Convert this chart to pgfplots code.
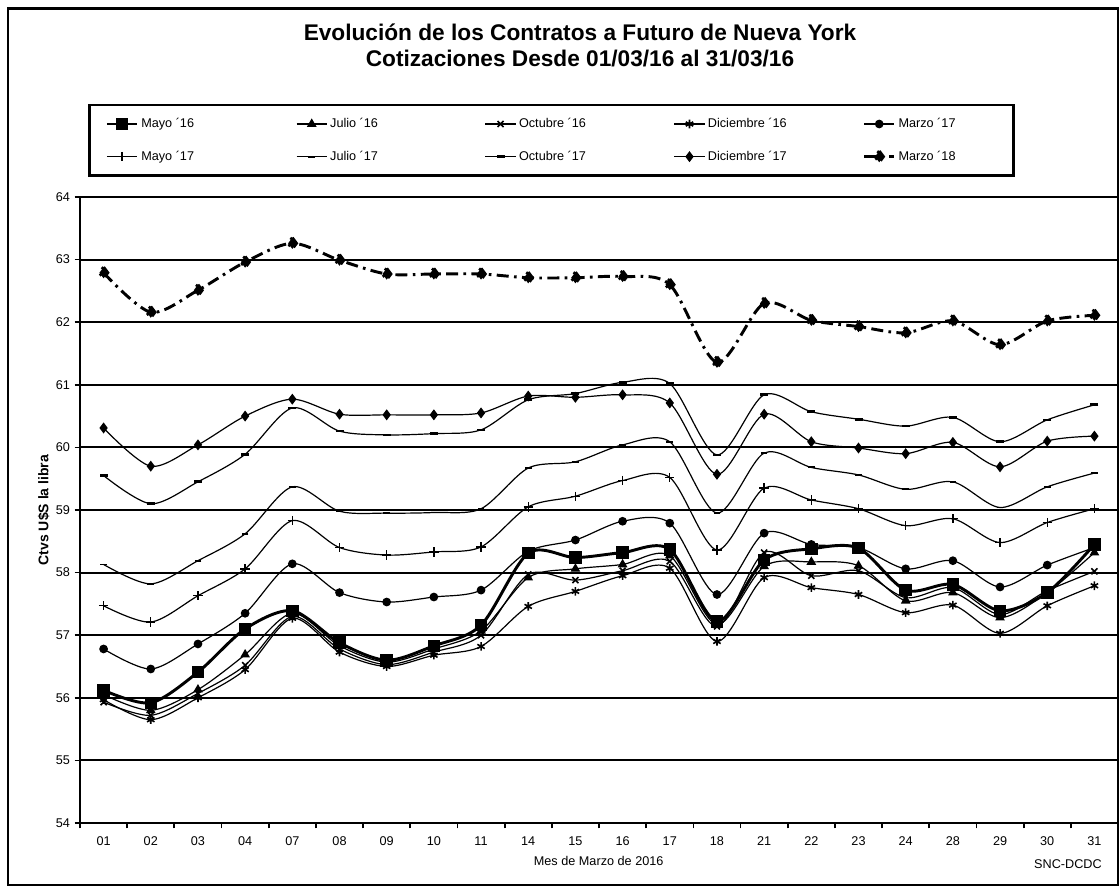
\documentclass[border=0pt]{standalone}
\usepackage{fontspec}
\setmainfont{Liberation Sans}
\usepackage{pgfplots}
\pgfplotsset{compat=1.18}
\usepackage{pgfplotstable}

% cotizaciones (ctvs U$S la libra), una fila por rueda
\pgfplotstableread{
x  M16   J16   O16   D16   Mz17  My17  Jl17  O17   D17   Mz18
0  56.12 56.05 55.93 55.97 56.78 57.47 58.13 59.55 60.31 62.79
1  55.92 55.80 55.72 55.65 56.46 57.21 57.82 59.10 59.70 62.16
2  56.41 56.13 56.07 56.00 56.86 57.63 58.19 59.45 60.04 62.51
3  57.10 56.69 56.52 56.45 57.35 58.06 58.62 59.89 60.50 62.96
4  57.39 57.35 57.30 57.27 58.14 58.83 59.37 60.63 60.77 63.26
5  56.88 56.83 56.78 56.73 57.68 58.40 58.98 60.26 60.53 62.99
6  56.60 56.57 56.53 56.50 57.53 58.28 58.95 60.20 60.52 62.77
7  56.83 56.78 56.73 56.68 57.61 58.33 58.96 60.22 60.52 62.77
8  57.16 57.07 57.00 56.82 57.72 58.41 59.02 60.28 60.55 62.77
9  58.31 57.92 57.97 57.46 58.34 59.05 59.67 60.76 60.82 62.71
10 58.24 58.06 57.88 57.70 58.52 59.22 59.77 60.86 60.80 62.71
11 58.32 58.13 58.03 57.95 58.82 59.47 60.04 61.04 60.84 62.73
12 58.37 58.27 58.18 58.07 58.79 59.52 60.09 61.02 60.71 62.60
13 57.22 57.17 57.14 56.90 57.65 58.36 58.95 59.88 59.57 61.36
14 58.20 58.10 58.32 57.92 58.63 59.35 59.91 60.84 60.53 62.30
15 58.38 58.17 57.95 57.76 58.45 59.16 59.68 60.57 60.09 62.03
16 58.39 58.11 58.03 57.65 58.40 59.02 59.56 60.45 59.99 61.93
17 57.72 57.55 57.60 57.36 58.06 58.75 59.33 60.34 59.90 61.83
18 57.81 57.68 57.76 57.48 58.19 58.86 59.45 60.48 60.08 62.02
19 57.39 57.28 57.33 57.03 57.77 58.48 59.04 60.09 59.69 61.64
20 57.68 57.68 57.71 57.47 58.12 58.80 59.37 60.44 60.10 62.02
21 58.45 58.32 58.02 57.79 58.40 59.02 59.59 60.68 60.18 62.11
}\datos

\begin{document}
\begin{tikzpicture}
  \useasboundingbox (0,0) rectangle (840pt,668.25pt);
  \draw[line width=2.2pt] (6pt,4.5pt) rectangle (838.5pt,662pt);

  \node[font=\fontsize{17}{19.5}\selectfont\bfseries, align=center]
    at (435pt,634.5pt) {Evolución de los Contratos a Futuro de Nueva York\\Cotizaciones Desde 01/03/16 al 31/03/16};

  \begin{axis}[
      at={(60pt,51pt)}, anchor=south west,
      scale only axis,
      width=778.5pt, height=469.5pt,
      xmin=-0.5, xmax=21.5,
      ymin=54, ymax=64,
      ytick={54,...,64},
      xtick={0,...,21},
      xticklabels={01,02,03,04,07,08,09,10,11,14,15,16,17,18,21,22,23,24,28,29,30,31},
      xtick style={draw=none},
      extra x ticks={-0.5,0.5,...,21.5},
      extra x tick labels={},
      extra x tick style={xtick style={draw=black}},
      tick align=outside,
      major tick length=4pt,
      tick style={line width=1.3pt, black},
      tick pos=left,
      ymajorgrids,
      grid style={black, line width=1.4pt},
      axis line style={line width=1.8pt},
      ticklabel style={font=\fontsize{9.5}{11}\selectfont},
      /pgf/number format/assume math mode=true,
      xticklabel style={yshift=-3pt},
      ylabel={\textbf{Ctvs U\$S la libra}},
      ylabel style={font=\fontsize{10.5}{12}\selectfont, yshift=-2pt},
      every axis plot/.append style={smooth, tension=0.5},
      every mark/.append style={solid},
      legend columns=5,
      legend image code/.code={\draw[mark repeat=2,mark phase=2]
        plot coordinates {(0cm,0cm) (0.4cm,0cm) (0.8cm,0cm)};},
      legend style={
        at={(rel axis cs:0,1)}, anchor=south west,
        xshift=6pt, yshift=15pt,
        draw=black, line width=2pt,
        font=\fontsize{9.5}{10.5}\selectfont,
        inner xsep=12pt, inner ysep=8pt,
        nodes={inner sep=2pt},
        row sep=12pt,
      },
      legend cell align=left,
    ]
    \addplot[black, line width=2.2pt, mark=square*, mark size=3.6pt] table[y=M16] {\datos};
    \addlegendentry{\makebox[114pt][l]{Mayo ´16}}
    \addplot[black, line width=0.9pt, mark=triangle*, mark size=3.3pt] table[y=J16] {\datos};
    \addlegendentry{\makebox[114pt][l]{Julio ´16}}
    \addplot[black, line width=0.9pt, mark=x, mark size=3.2pt, mark options={line width=1.2pt}] table[y=O16] {\datos};
    \addlegendentry{\makebox[114pt][l]{Octubre ´16}}
    \addplot[black, line width=0.9pt, mark=asterisk, mark size=3.2pt, mark options={line width=1.2pt}] table[y=D16] {\datos};
    \addlegendentry{\makebox[114pt][l]{Diciembre ´16}}
    \addplot[black, line width=0.9pt, mark=*, mark size=2.8pt] table[y=Mz17] {\datos};
    \addlegendentry{\makebox[72pt][l]{Marzo ´17}}
    \addplot[black, line width=0.9pt, mark=+, mark size=3.5pt, mark options={line width=1pt}] table[y=My17] {\datos};
    \addlegendentry{\makebox[114pt][l]{Mayo ´17}}
    \addplot[black, line width=0.9pt, mark=-, mark size=2.5pt, mark options={line width=1.4pt}] table[y=Jl17] {\datos};
    \addlegendentry{\makebox[114pt][l]{Julio ´17}}
    \addplot[black, line width=0.9pt, mark=-, mark size=3pt, mark options={line width=2pt}] table[y=O17] {\datos};
    \addlegendentry{\makebox[114pt][l]{Octubre ´17}}
    \addplot[black, line width=0.9pt, mark=diamond*, mark size=3.4pt] table[y=D17] {\datos};
    \addlegendentry{\makebox[114pt][l]{Diciembre ´17}}
    \addplot[black, line width=2.2pt, dash pattern=on 9pt off 4pt on 2pt off 4pt, mark=diamond*, mark size=4.2pt] table[y=Mz18] {\datos};
    \addlegendentry{\makebox[72pt][l]{Marzo ´18}}
  \end{axis}

  \node[font=\fontsize{9.5}{11}\selectfont] at (449pt,22.5pt) {Mes de Marzo de 2016};
  \node[font=\fontsize{9.5}{11}\selectfont] at (801pt,20pt) {SNC-DCDC};
\end{tikzpicture}
\end{document}
